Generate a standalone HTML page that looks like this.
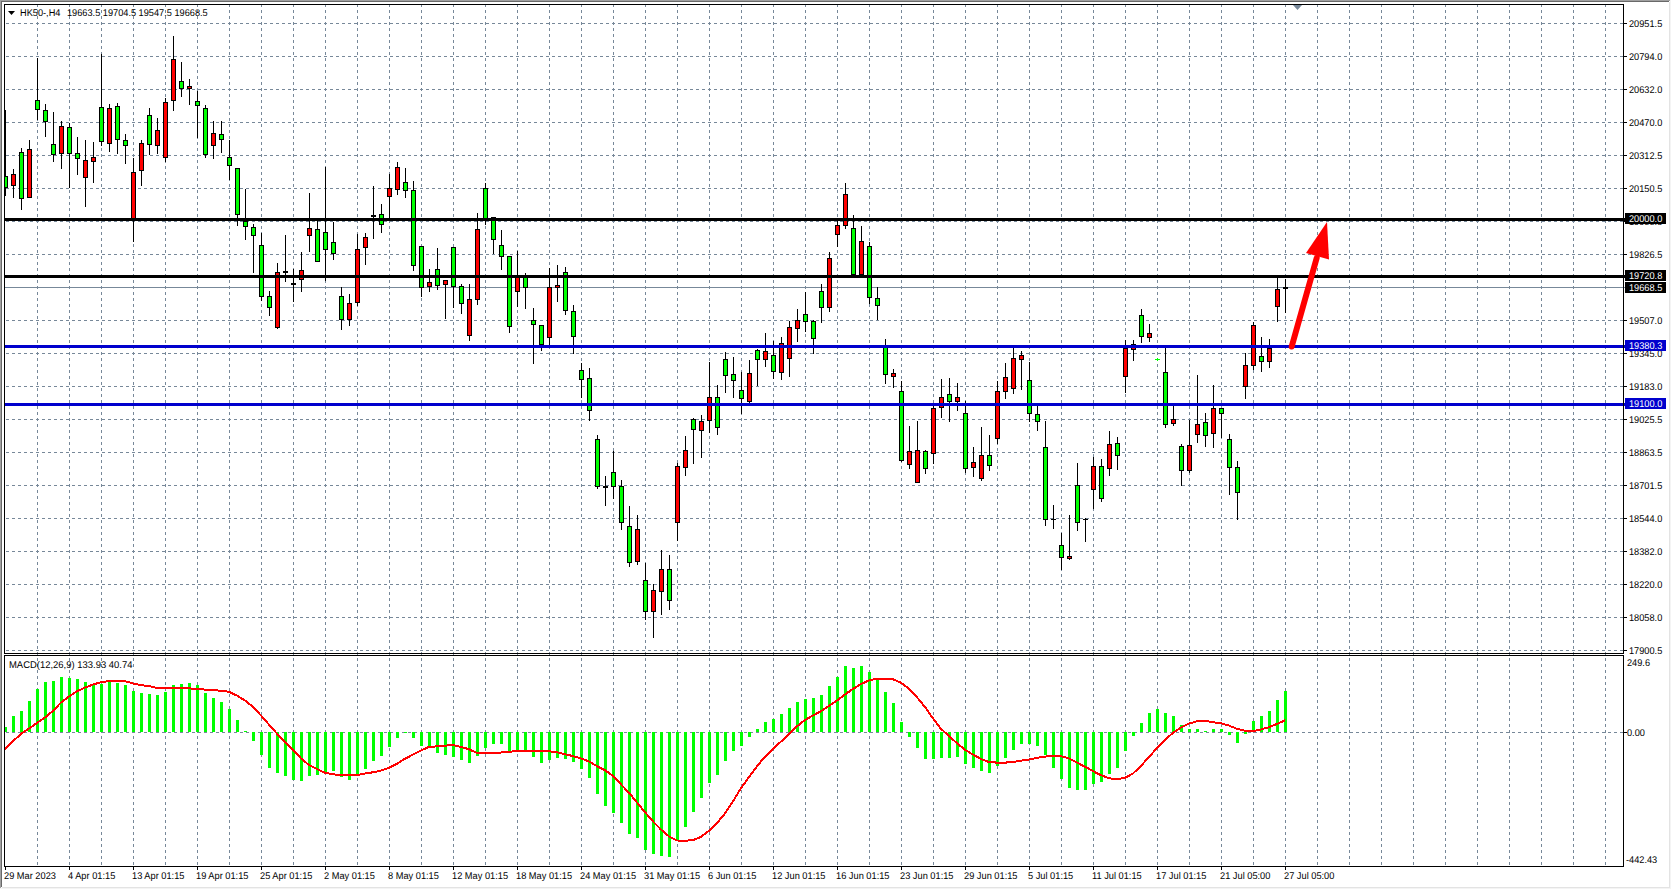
<!DOCTYPE html><html><head><meta charset="utf-8"><title>HK50-,H4</title><style>html,body{margin:0;padding:0;background:#fff;overflow:hidden}svg{display:block}text{font-family:'Liberation Sans',Arial,sans-serif;font-size:11.0px;text-rendering:geometricPrecision}</style></head><body>
<svg width="1671" height="889" viewBox="0 0 1671 889" shape-rendering="crispEdges">
<rect x="0" y="0" width="1671" height="889" fill="#fff"/>
<rect x="0" y="0" width="1671" height="1" fill="#a0a0a0"/>
<rect x="0" y="0" width="1" height="888" fill="#a0a0a0"/>
<rect x="1" y="1" width="1668" height="1" fill="#696969"/>
<rect x="1" y="1" width="1" height="886" fill="#696969"/>
<rect x="1669" y="2" width="1" height="886" fill="#e3e3e3"/>
<rect x="2" y="887" width="1668" height="1" fill="#e3e3e3"/>
<rect x="1670" y="0" width="1" height="889" fill="#f4f4f4"/>
<rect x="0" y="888" width="1671" height="1" fill="#f4f4f4"/>
<path d="M5 23.5H1623 M5 56.5H1623 M5 89.5H1623 M5 122.5H1623 M5 155.5H1623 M5 188.5H1623 M5 221.5H1623 M5 254.5H1623 M5 287.5H1623 M5 320.5H1623 M5 353.5H1623 M5 386.5H1623 M5 419.5H1623 M5 452.5H1623 M5 485.5H1623 M5 518.5H1623 M5 551.5H1623 M5 584.5H1623 M5 617.5H1623 M5 650.5H1623" stroke="#778899" stroke-width="1" stroke-dasharray="3 3" fill="none" stroke-dashoffset="5"/>
<path d="M5 732.5H1623" stroke="#778899" stroke-width="1" stroke-dasharray="3 3" stroke-dashoffset="5" fill="none"/>
<path d="M37.5 4V866 M69.5 4V866 M101.5 4V866 M133.5 4V866 M165.5 4V866 M197.5 4V866 M229.5 4V866 M261.5 4V866 M293.5 4V866 M325.5 4V866 M357.5 4V866 M389.5 4V866 M421.5 4V866 M453.5 4V866 M485.5 4V866 M517.5 4V866 M549.5 4V866 M581.5 4V866 M613.5 4V866 M645.5 4V866 M677.5 4V866 M709.5 4V866 M741.5 4V866 M773.5 4V866 M805.5 4V866 M837.5 4V866 M869.5 4V866 M901.5 4V866 M933.5 4V866 M965.5 4V866 M997.5 4V866 M1029.5 4V866 M1061.5 4V866 M1093.5 4V866 M1125.5 4V866 M1157.5 4V866 M1189.5 4V866 M1221.5 4V866 M1253.5 4V866 M1285.5 4V866 M1317.5 4V866 M1349.5 4V866 M1381.5 4V866 M1413.5 4V866 M1445.5 4V866 M1477.5 4V866 M1509.5 4V866 M1541.5 4V866 M1573.5 4V866 M1605.5 4V866" stroke="#778899" stroke-width="1" stroke-dasharray="3 3" fill="none"/>
<defs><clipPath id="cm"><rect x="5" y="5" width="1618" height="648"/></clipPath><clipPath id="cd"><rect x="5" y="656" width="1618" height="210"/></clipPath></defs>
<g clip-path="url(#cm)">
<rect x="5" y="287" width="1618" height="1" fill="#778899"/>
<rect x="5" y="110" width="1" height="86" fill="#000"/>
<rect x="3" y="176" width="5" height="12" fill="#000"/>
<rect x="4" y="177" width="3" height="10" fill="#00ff00"/>
<rect x="13" y="169" width="1" height="29" fill="#000"/>
<rect x="11" y="174" width="5" height="12" fill="#000"/>
<rect x="12" y="175" width="3" height="10" fill="#ff0000"/>
<rect x="21" y="148" width="1" height="62" fill="#000"/>
<rect x="19" y="152" width="5" height="47" fill="#000"/>
<rect x="20" y="153" width="3" height="45" fill="#00ff00"/>
<rect x="29" y="140" width="1" height="58" fill="#000"/>
<rect x="27" y="149" width="5" height="49" fill="#000"/>
<rect x="28" y="150" width="3" height="47" fill="#ff0000"/>
<rect x="37" y="58" width="1" height="62" fill="#000"/>
<rect x="35" y="100" width="5" height="10" fill="#000"/>
<rect x="36" y="101" width="3" height="8" fill="#00ff00"/>
<rect x="45" y="104" width="1" height="33" fill="#000"/>
<rect x="43" y="110" width="5" height="12" fill="#000"/>
<rect x="44" y="111" width="3" height="10" fill="#00ff00"/>
<rect x="53" y="112" width="1" height="50" fill="#000"/>
<rect x="51" y="144" width="5" height="11" fill="#000"/>
<rect x="52" y="145" width="3" height="9" fill="#00ff00"/>
<rect x="61" y="121" width="1" height="48" fill="#000"/>
<rect x="59" y="126" width="5" height="28" fill="#000"/>
<rect x="60" y="127" width="3" height="26" fill="#ff0000"/>
<rect x="69" y="123" width="1" height="65" fill="#000"/>
<rect x="67" y="127" width="5" height="27" fill="#000"/>
<rect x="68" y="128" width="3" height="25" fill="#00ff00"/>
<rect x="77" y="137" width="1" height="38" fill="#000"/>
<rect x="75" y="153" width="5" height="6" fill="#000"/>
<rect x="76" y="154" width="3" height="4" fill="#00ff00"/>
<rect x="85" y="140" width="1" height="67" fill="#000"/>
<rect x="83" y="160" width="5" height="18" fill="#000"/>
<rect x="84" y="161" width="3" height="16" fill="#ff0000"/>
<rect x="93" y="142" width="1" height="41" fill="#000"/>
<rect x="91" y="157" width="5" height="5" fill="#000"/>
<rect x="92" y="158" width="3" height="3" fill="#ff0000"/>
<rect x="101" y="54" width="1" height="92" fill="#000"/>
<rect x="99" y="107" width="5" height="35" fill="#000"/>
<rect x="100" y="108" width="3" height="33" fill="#00ff00"/>
<rect x="109" y="104" width="1" height="48" fill="#000"/>
<rect x="107" y="108" width="5" height="36" fill="#000"/>
<rect x="108" y="109" width="3" height="34" fill="#ff0000"/>
<rect x="117" y="103" width="1" height="51" fill="#000"/>
<rect x="115" y="106" width="5" height="34" fill="#000"/>
<rect x="116" y="107" width="3" height="32" fill="#00ff00"/>
<rect x="125" y="134" width="1" height="30" fill="#000"/>
<rect x="123" y="140" width="5" height="6" fill="#000"/>
<rect x="124" y="141" width="3" height="4" fill="#00ff00"/>
<rect x="133" y="158" width="1" height="84" fill="#000"/>
<rect x="131" y="172" width="5" height="49" fill="#000"/>
<rect x="132" y="173" width="3" height="47" fill="#ff0000"/>
<rect x="141" y="140" width="1" height="46" fill="#000"/>
<rect x="139" y="143" width="5" height="28" fill="#000"/>
<rect x="140" y="144" width="3" height="26" fill="#ff0000"/>
<rect x="149" y="108" width="1" height="47" fill="#000"/>
<rect x="147" y="115" width="5" height="30" fill="#000"/>
<rect x="148" y="116" width="3" height="28" fill="#00ff00"/>
<rect x="157" y="118" width="1" height="36" fill="#000"/>
<rect x="155" y="130" width="5" height="16" fill="#000"/>
<rect x="156" y="131" width="3" height="14" fill="#ff0000"/>
<rect x="165" y="98" width="1" height="64" fill="#000"/>
<rect x="163" y="102" width="5" height="56" fill="#000"/>
<rect x="164" y="103" width="3" height="54" fill="#ff0000"/>
<rect x="173" y="36" width="1" height="75" fill="#000"/>
<rect x="171" y="59" width="5" height="42" fill="#000"/>
<rect x="172" y="60" width="3" height="40" fill="#ff0000"/>
<rect x="181" y="62" width="1" height="35" fill="#000"/>
<rect x="179" y="81" width="5" height="8" fill="#000"/>
<rect x="180" y="82" width="3" height="6" fill="#00ff00"/>
<rect x="189" y="79" width="1" height="26" fill="#000"/>
<rect x="187" y="86" width="5" height="3" fill="#000"/>
<rect x="188" y="87" width="3" height="1" fill="#ff0000"/>
<rect x="197" y="91" width="1" height="47" fill="#000"/>
<rect x="195" y="101" width="5" height="5" fill="#000"/>
<rect x="196" y="102" width="3" height="3" fill="#00ff00"/>
<rect x="205" y="105" width="1" height="53" fill="#000"/>
<rect x="203" y="108" width="5" height="47" fill="#000"/>
<rect x="204" y="109" width="3" height="45" fill="#00ff00"/>
<rect x="213" y="121" width="1" height="38" fill="#000"/>
<rect x="211" y="133" width="5" height="13" fill="#000"/>
<rect x="212" y="134" width="3" height="11" fill="#ff0000"/>
<rect x="221" y="121" width="1" height="32" fill="#000"/>
<rect x="219" y="134" width="5" height="6" fill="#000"/>
<rect x="220" y="135" width="3" height="4" fill="#00ff00"/>
<rect x="229" y="140" width="1" height="40" fill="#000"/>
<rect x="227" y="157" width="5" height="9" fill="#000"/>
<rect x="228" y="158" width="3" height="7" fill="#00ff00"/>
<rect x="237" y="168" width="1" height="58" fill="#000"/>
<rect x="235" y="168" width="5" height="47" fill="#000"/>
<rect x="236" y="169" width="3" height="45" fill="#00ff00"/>
<rect x="245" y="189" width="1" height="51" fill="#000"/>
<rect x="243" y="221" width="5" height="6" fill="#000"/>
<rect x="244" y="222" width="3" height="4" fill="#00ff00"/>
<rect x="253" y="224" width="1" height="49" fill="#000"/>
<rect x="251" y="227" width="5" height="9" fill="#000"/>
<rect x="252" y="228" width="3" height="7" fill="#00ff00"/>
<rect x="261" y="233" width="1" height="68" fill="#000"/>
<rect x="259" y="245" width="5" height="52" fill="#000"/>
<rect x="260" y="246" width="3" height="50" fill="#00ff00"/>
<rect x="269" y="291" width="1" height="25" fill="#000"/>
<rect x="267" y="296" width="5" height="12" fill="#000"/>
<rect x="268" y="297" width="3" height="10" fill="#00ff00"/>
<rect x="277" y="263" width="1" height="66" fill="#000"/>
<rect x="275" y="272" width="5" height="56" fill="#000"/>
<rect x="276" y="273" width="3" height="54" fill="#ff0000"/>
<rect x="285" y="235" width="1" height="47" fill="#000"/>
<rect x="283" y="271" width="5" height="2" fill="#000"/>
<rect x="293" y="269" width="1" height="33" fill="#000"/>
<rect x="291" y="283" width="5" height="2" fill="#000"/>
<rect x="301" y="252" width="1" height="40" fill="#000"/>
<rect x="299" y="270" width="5" height="10" fill="#000"/>
<rect x="300" y="271" width="3" height="8" fill="#ff0000"/>
<rect x="309" y="193" width="1" height="59" fill="#000"/>
<rect x="307" y="228" width="5" height="8" fill="#000"/>
<rect x="308" y="229" width="3" height="6" fill="#ff0000"/>
<rect x="317" y="220" width="1" height="41" fill="#000"/>
<rect x="315" y="229" width="5" height="33" fill="#000"/>
<rect x="316" y="230" width="3" height="31" fill="#00ff00"/>
<rect x="325" y="167" width="1" height="114" fill="#000"/>
<rect x="323" y="232" width="5" height="18" fill="#000"/>
<rect x="324" y="233" width="3" height="16" fill="#00ff00"/>
<rect x="333" y="222" width="1" height="38" fill="#000"/>
<rect x="331" y="242" width="5" height="12" fill="#000"/>
<rect x="332" y="243" width="3" height="10" fill="#00ff00"/>
<rect x="341" y="287" width="1" height="43" fill="#000"/>
<rect x="339" y="296" width="5" height="24" fill="#000"/>
<rect x="340" y="297" width="3" height="22" fill="#00ff00"/>
<rect x="349" y="294" width="1" height="32" fill="#000"/>
<rect x="347" y="303" width="5" height="17" fill="#000"/>
<rect x="348" y="304" width="3" height="15" fill="#ff0000"/>
<rect x="357" y="234" width="1" height="72" fill="#000"/>
<rect x="355" y="249" width="5" height="54" fill="#000"/>
<rect x="356" y="250" width="3" height="52" fill="#ff0000"/>
<rect x="365" y="233" width="1" height="32" fill="#000"/>
<rect x="363" y="237" width="5" height="11" fill="#000"/>
<rect x="364" y="238" width="3" height="9" fill="#ff0000"/>
<rect x="373" y="186" width="1" height="53" fill="#000"/>
<rect x="371" y="215" width="5" height="2" fill="#000"/>
<rect x="381" y="204" width="1" height="29" fill="#000"/>
<rect x="379" y="214" width="5" height="11" fill="#000"/>
<rect x="380" y="215" width="3" height="9" fill="#00ff00"/>
<rect x="389" y="174" width="1" height="45" fill="#000"/>
<rect x="387" y="188" width="5" height="9" fill="#000"/>
<rect x="388" y="189" width="3" height="7" fill="#ff0000"/>
<rect x="397" y="162" width="1" height="33" fill="#000"/>
<rect x="395" y="167" width="5" height="23" fill="#000"/>
<rect x="396" y="168" width="3" height="21" fill="#ff0000"/>
<rect x="405" y="168" width="1" height="30" fill="#000"/>
<rect x="403" y="182" width="5" height="9" fill="#000"/>
<rect x="404" y="183" width="3" height="7" fill="#00ff00"/>
<rect x="413" y="181" width="1" height="90" fill="#000"/>
<rect x="411" y="190" width="5" height="76" fill="#000"/>
<rect x="412" y="191" width="3" height="74" fill="#00ff00"/>
<rect x="421" y="246" width="1" height="51" fill="#000"/>
<rect x="419" y="246" width="5" height="42" fill="#000"/>
<rect x="420" y="247" width="3" height="40" fill="#00ff00"/>
<rect x="429" y="269" width="1" height="23" fill="#000"/>
<rect x="427" y="282" width="5" height="5" fill="#000"/>
<rect x="428" y="283" width="3" height="3" fill="#ff0000"/>
<rect x="437" y="248" width="1" height="42" fill="#000"/>
<rect x="435" y="269" width="5" height="17" fill="#000"/>
<rect x="436" y="270" width="3" height="15" fill="#00ff00"/>
<rect x="445" y="280" width="1" height="39" fill="#000"/>
<rect x="443" y="280" width="5" height="5" fill="#000"/>
<rect x="444" y="281" width="3" height="3" fill="#ff0000"/>
<rect x="453" y="247" width="1" height="61" fill="#000"/>
<rect x="451" y="247" width="5" height="40" fill="#000"/>
<rect x="452" y="248" width="3" height="38" fill="#00ff00"/>
<rect x="461" y="284" width="1" height="30" fill="#000"/>
<rect x="459" y="286" width="5" height="18" fill="#000"/>
<rect x="460" y="287" width="3" height="16" fill="#00ff00"/>
<rect x="469" y="284" width="1" height="57" fill="#000"/>
<rect x="467" y="299" width="5" height="37" fill="#000"/>
<rect x="468" y="300" width="3" height="35" fill="#ff0000"/>
<rect x="477" y="213" width="1" height="92" fill="#000"/>
<rect x="475" y="229" width="5" height="71" fill="#000"/>
<rect x="476" y="230" width="3" height="69" fill="#ff0000"/>
<rect x="485" y="183" width="1" height="42" fill="#000"/>
<rect x="483" y="188" width="5" height="31" fill="#000"/>
<rect x="484" y="189" width="3" height="29" fill="#00ff00"/>
<rect x="493" y="217" width="1" height="37" fill="#000"/>
<rect x="491" y="217" width="5" height="23" fill="#000"/>
<rect x="492" y="218" width="3" height="21" fill="#00ff00"/>
<rect x="501" y="230" width="1" height="40" fill="#000"/>
<rect x="499" y="245" width="5" height="12" fill="#000"/>
<rect x="500" y="246" width="3" height="10" fill="#00ff00"/>
<rect x="509" y="256" width="1" height="77" fill="#000"/>
<rect x="507" y="256" width="5" height="71" fill="#000"/>
<rect x="508" y="257" width="3" height="69" fill="#00ff00"/>
<rect x="517" y="251" width="1" height="56" fill="#000"/>
<rect x="515" y="277" width="5" height="15" fill="#000"/>
<rect x="516" y="278" width="3" height="13" fill="#ff0000"/>
<rect x="525" y="273" width="1" height="36" fill="#000"/>
<rect x="523" y="277" width="5" height="11" fill="#000"/>
<rect x="524" y="278" width="3" height="9" fill="#00ff00"/>
<rect x="533" y="308" width="1" height="56" fill="#000"/>
<rect x="531" y="320" width="5" height="5" fill="#000"/>
<rect x="532" y="321" width="3" height="3" fill="#00ff00"/>
<rect x="541" y="325" width="1" height="26" fill="#000"/>
<rect x="539" y="325" width="5" height="20" fill="#000"/>
<rect x="540" y="326" width="3" height="18" fill="#00ff00"/>
<rect x="549" y="268" width="1" height="77" fill="#000"/>
<rect x="547" y="287" width="5" height="51" fill="#000"/>
<rect x="548" y="288" width="3" height="49" fill="#ff0000"/>
<rect x="557" y="265" width="1" height="37" fill="#000"/>
<rect x="555" y="285" width="5" height="3" fill="#000"/>
<rect x="556" y="286" width="3" height="1" fill="#ff0000"/>
<rect x="565" y="267" width="1" height="48" fill="#000"/>
<rect x="563" y="272" width="5" height="39" fill="#000"/>
<rect x="564" y="273" width="3" height="37" fill="#00ff00"/>
<rect x="573" y="305" width="1" height="49" fill="#000"/>
<rect x="571" y="311" width="5" height="26" fill="#000"/>
<rect x="572" y="312" width="3" height="24" fill="#00ff00"/>
<rect x="581" y="363" width="1" height="35" fill="#000"/>
<rect x="579" y="370" width="5" height="10" fill="#000"/>
<rect x="580" y="371" width="3" height="8" fill="#00ff00"/>
<rect x="589" y="368" width="1" height="53" fill="#000"/>
<rect x="587" y="378" width="5" height="33" fill="#000"/>
<rect x="588" y="379" width="3" height="31" fill="#00ff00"/>
<rect x="597" y="435" width="1" height="54" fill="#000"/>
<rect x="595" y="439" width="5" height="48" fill="#000"/>
<rect x="596" y="440" width="3" height="46" fill="#00ff00"/>
<rect x="605" y="476" width="1" height="30" fill="#000"/>
<rect x="603" y="486" width="5" height="2" fill="#000"/>
<rect x="613" y="451" width="1" height="48" fill="#000"/>
<rect x="611" y="472" width="5" height="15" fill="#000"/>
<rect x="612" y="473" width="3" height="13" fill="#00ff00"/>
<rect x="621" y="480" width="1" height="50" fill="#000"/>
<rect x="619" y="486" width="5" height="37" fill="#000"/>
<rect x="620" y="487" width="3" height="35" fill="#00ff00"/>
<rect x="629" y="506" width="1" height="61" fill="#000"/>
<rect x="627" y="526" width="5" height="37" fill="#000"/>
<rect x="628" y="527" width="3" height="35" fill="#00ff00"/>
<rect x="637" y="515" width="1" height="50" fill="#000"/>
<rect x="635" y="529" width="5" height="33" fill="#000"/>
<rect x="636" y="530" width="3" height="31" fill="#ff0000"/>
<rect x="645" y="563" width="1" height="57" fill="#000"/>
<rect x="643" y="580" width="5" height="32" fill="#000"/>
<rect x="644" y="581" width="3" height="30" fill="#00ff00"/>
<rect x="653" y="584" width="1" height="54" fill="#000"/>
<rect x="651" y="590" width="5" height="22" fill="#000"/>
<rect x="652" y="591" width="3" height="20" fill="#ff0000"/>
<rect x="661" y="550" width="1" height="65" fill="#000"/>
<rect x="659" y="569" width="5" height="23" fill="#000"/>
<rect x="660" y="570" width="3" height="21" fill="#ff0000"/>
<rect x="669" y="555" width="1" height="55" fill="#000"/>
<rect x="667" y="569" width="5" height="32" fill="#000"/>
<rect x="668" y="570" width="3" height="30" fill="#00ff00"/>
<rect x="677" y="463" width="1" height="78" fill="#000"/>
<rect x="675" y="466" width="5" height="57" fill="#000"/>
<rect x="676" y="467" width="3" height="55" fill="#ff0000"/>
<rect x="685" y="436" width="1" height="40" fill="#000"/>
<rect x="683" y="450" width="5" height="18" fill="#000"/>
<rect x="684" y="451" width="3" height="16" fill="#ff0000"/>
<rect x="693" y="418" width="1" height="46" fill="#000"/>
<rect x="691" y="419" width="5" height="11" fill="#000"/>
<rect x="692" y="420" width="3" height="9" fill="#00ff00"/>
<rect x="701" y="415" width="1" height="43" fill="#000"/>
<rect x="699" y="421" width="5" height="10" fill="#000"/>
<rect x="700" y="422" width="3" height="8" fill="#ff0000"/>
<rect x="709" y="362" width="1" height="71" fill="#000"/>
<rect x="707" y="397" width="5" height="24" fill="#000"/>
<rect x="708" y="398" width="3" height="22" fill="#ff0000"/>
<rect x="717" y="385" width="1" height="50" fill="#000"/>
<rect x="715" y="397" width="5" height="31" fill="#000"/>
<rect x="716" y="398" width="3" height="29" fill="#00ff00"/>
<rect x="725" y="352" width="1" height="41" fill="#000"/>
<rect x="723" y="359" width="5" height="17" fill="#000"/>
<rect x="724" y="360" width="3" height="15" fill="#00ff00"/>
<rect x="733" y="357" width="1" height="41" fill="#000"/>
<rect x="731" y="374" width="5" height="7" fill="#000"/>
<rect x="732" y="375" width="3" height="5" fill="#00ff00"/>
<rect x="741" y="372" width="1" height="42" fill="#000"/>
<rect x="739" y="390" width="5" height="9" fill="#000"/>
<rect x="740" y="391" width="3" height="7" fill="#00ff00"/>
<rect x="749" y="360" width="1" height="43" fill="#000"/>
<rect x="747" y="373" width="5" height="29" fill="#000"/>
<rect x="748" y="374" width="3" height="27" fill="#ff0000"/>
<rect x="757" y="349" width="1" height="37" fill="#000"/>
<rect x="755" y="350" width="5" height="10" fill="#000"/>
<rect x="756" y="351" width="3" height="8" fill="#00ff00"/>
<rect x="765" y="333" width="1" height="34" fill="#000"/>
<rect x="763" y="351" width="5" height="9" fill="#000"/>
<rect x="764" y="352" width="3" height="7" fill="#ff0000"/>
<rect x="773" y="341" width="1" height="38" fill="#000"/>
<rect x="771" y="355" width="5" height="17" fill="#000"/>
<rect x="772" y="356" width="3" height="15" fill="#00ff00"/>
<rect x="781" y="337" width="1" height="43" fill="#000"/>
<rect x="779" y="343" width="5" height="30" fill="#000"/>
<rect x="780" y="344" width="3" height="28" fill="#ff0000"/>
<rect x="789" y="321" width="1" height="56" fill="#000"/>
<rect x="787" y="327" width="5" height="32" fill="#000"/>
<rect x="788" y="328" width="3" height="30" fill="#ff0000"/>
<rect x="797" y="309" width="1" height="33" fill="#000"/>
<rect x="795" y="320" width="5" height="9" fill="#000"/>
<rect x="796" y="321" width="3" height="7" fill="#ff0000"/>
<rect x="805" y="292" width="1" height="40" fill="#000"/>
<rect x="803" y="314" width="5" height="8" fill="#000"/>
<rect x="804" y="315" width="3" height="6" fill="#00ff00"/>
<rect x="813" y="320" width="1" height="34" fill="#000"/>
<rect x="811" y="321" width="5" height="18" fill="#000"/>
<rect x="812" y="322" width="3" height="16" fill="#00ff00"/>
<rect x="821" y="284" width="1" height="39" fill="#000"/>
<rect x="819" y="291" width="5" height="17" fill="#000"/>
<rect x="820" y="292" width="3" height="15" fill="#00ff00"/>
<rect x="829" y="252" width="1" height="60" fill="#000"/>
<rect x="827" y="258" width="5" height="50" fill="#000"/>
<rect x="828" y="259" width="3" height="48" fill="#ff0000"/>
<rect x="837" y="221" width="1" height="26" fill="#000"/>
<rect x="835" y="225" width="5" height="10" fill="#000"/>
<rect x="836" y="226" width="3" height="8" fill="#ff0000"/>
<rect x="845" y="183" width="1" height="46" fill="#000"/>
<rect x="843" y="194" width="5" height="32" fill="#000"/>
<rect x="844" y="195" width="3" height="30" fill="#ff0000"/>
<rect x="853" y="215" width="1" height="60" fill="#000"/>
<rect x="851" y="228" width="5" height="47" fill="#000"/>
<rect x="852" y="229" width="3" height="45" fill="#00ff00"/>
<rect x="861" y="226" width="1" height="49" fill="#000"/>
<rect x="859" y="241" width="5" height="34" fill="#000"/>
<rect x="860" y="242" width="3" height="32" fill="#ff0000"/>
<rect x="869" y="242" width="1" height="62" fill="#000"/>
<rect x="867" y="246" width="5" height="52" fill="#000"/>
<rect x="868" y="247" width="3" height="50" fill="#00ff00"/>
<rect x="877" y="287" width="1" height="33" fill="#000"/>
<rect x="875" y="298" width="5" height="8" fill="#000"/>
<rect x="876" y="299" width="3" height="6" fill="#00ff00"/>
<rect x="885" y="339" width="1" height="45" fill="#000"/>
<rect x="883" y="347" width="5" height="28" fill="#000"/>
<rect x="884" y="348" width="3" height="26" fill="#00ff00"/>
<rect x="893" y="369" width="1" height="19" fill="#000"/>
<rect x="891" y="373" width="5" height="4" fill="#000"/>
<rect x="892" y="374" width="3" height="2" fill="#ff0000"/>
<rect x="901" y="381" width="1" height="81" fill="#000"/>
<rect x="899" y="391" width="5" height="70" fill="#000"/>
<rect x="900" y="392" width="3" height="68" fill="#00ff00"/>
<rect x="909" y="426" width="1" height="43" fill="#000"/>
<rect x="907" y="451" width="5" height="14" fill="#000"/>
<rect x="908" y="452" width="3" height="12" fill="#ff0000"/>
<rect x="917" y="421" width="1" height="62" fill="#000"/>
<rect x="915" y="450" width="5" height="33" fill="#000"/>
<rect x="916" y="451" width="3" height="31" fill="#ff0000"/>
<rect x="925" y="450" width="1" height="24" fill="#000"/>
<rect x="923" y="451" width="5" height="18" fill="#000"/>
<rect x="924" y="452" width="3" height="16" fill="#00ff00"/>
<rect x="933" y="403" width="1" height="61" fill="#000"/>
<rect x="931" y="408" width="5" height="46" fill="#000"/>
<rect x="932" y="409" width="3" height="44" fill="#ff0000"/>
<rect x="941" y="379" width="1" height="39" fill="#000"/>
<rect x="939" y="397" width="5" height="11" fill="#000"/>
<rect x="940" y="398" width="3" height="9" fill="#ff0000"/>
<rect x="949" y="378" width="1" height="44" fill="#000"/>
<rect x="947" y="394" width="5" height="8" fill="#000"/>
<rect x="948" y="395" width="3" height="6" fill="#00ff00"/>
<rect x="957" y="383" width="1" height="28" fill="#000"/>
<rect x="955" y="397" width="5" height="5" fill="#000"/>
<rect x="956" y="398" width="3" height="3" fill="#ff0000"/>
<rect x="965" y="401" width="1" height="72" fill="#000"/>
<rect x="963" y="413" width="5" height="56" fill="#000"/>
<rect x="964" y="414" width="3" height="54" fill="#00ff00"/>
<rect x="973" y="447" width="1" height="30" fill="#000"/>
<rect x="971" y="462" width="5" height="6" fill="#000"/>
<rect x="972" y="463" width="3" height="4" fill="#ff0000"/>
<rect x="981" y="427" width="1" height="54" fill="#000"/>
<rect x="979" y="455" width="5" height="24" fill="#000"/>
<rect x="980" y="456" width="3" height="22" fill="#ff0000"/>
<rect x="989" y="435" width="1" height="36" fill="#000"/>
<rect x="987" y="455" width="5" height="11" fill="#000"/>
<rect x="988" y="456" width="3" height="9" fill="#00ff00"/>
<rect x="997" y="381" width="1" height="63" fill="#000"/>
<rect x="995" y="391" width="5" height="48" fill="#000"/>
<rect x="996" y="392" width="3" height="46" fill="#ff0000"/>
<rect x="1005" y="363" width="1" height="36" fill="#000"/>
<rect x="1003" y="377" width="5" height="15" fill="#000"/>
<rect x="1004" y="378" width="3" height="13" fill="#ff0000"/>
<rect x="1013" y="348" width="1" height="46" fill="#000"/>
<rect x="1011" y="358" width="5" height="31" fill="#000"/>
<rect x="1012" y="359" width="3" height="29" fill="#ff0000"/>
<rect x="1021" y="351" width="1" height="39" fill="#000"/>
<rect x="1019" y="355" width="5" height="5" fill="#000"/>
<rect x="1020" y="356" width="3" height="3" fill="#ff0000"/>
<rect x="1029" y="362" width="1" height="60" fill="#000"/>
<rect x="1027" y="380" width="5" height="34" fill="#000"/>
<rect x="1028" y="381" width="3" height="32" fill="#00ff00"/>
<rect x="1037" y="406" width="1" height="25" fill="#000"/>
<rect x="1035" y="414" width="5" height="8" fill="#000"/>
<rect x="1036" y="415" width="3" height="6" fill="#00ff00"/>
<rect x="1045" y="421" width="1" height="105" fill="#000"/>
<rect x="1043" y="447" width="5" height="73" fill="#000"/>
<rect x="1044" y="448" width="3" height="71" fill="#00ff00"/>
<rect x="1053" y="505" width="1" height="24" fill="#000"/>
<rect x="1051" y="519" width="5" height="1" fill="#000"/>
<rect x="1061" y="533" width="1" height="37" fill="#000"/>
<rect x="1059" y="545" width="5" height="13" fill="#000"/>
<rect x="1060" y="546" width="3" height="11" fill="#00ff00"/>
<rect x="1069" y="515" width="1" height="45" fill="#000"/>
<rect x="1067" y="556" width="5" height="3" fill="#000"/>
<rect x="1068" y="557" width="3" height="1" fill="#ff0000"/>
<rect x="1077" y="463" width="1" height="68" fill="#000"/>
<rect x="1075" y="485" width="5" height="38" fill="#000"/>
<rect x="1076" y="486" width="3" height="36" fill="#00ff00"/>
<rect x="1085" y="518" width="1" height="24" fill="#000"/>
<rect x="1083" y="519" width="5" height="1" fill="#000"/>
<rect x="1093" y="457" width="1" height="52" fill="#000"/>
<rect x="1091" y="466" width="5" height="24" fill="#000"/>
<rect x="1092" y="467" width="3" height="22" fill="#ff0000"/>
<rect x="1101" y="459" width="1" height="43" fill="#000"/>
<rect x="1099" y="466" width="5" height="33" fill="#000"/>
<rect x="1100" y="467" width="3" height="31" fill="#00ff00"/>
<rect x="1109" y="431" width="1" height="45" fill="#000"/>
<rect x="1107" y="444" width="5" height="25" fill="#000"/>
<rect x="1108" y="445" width="3" height="23" fill="#ff0000"/>
<rect x="1117" y="437" width="1" height="33" fill="#000"/>
<rect x="1115" y="443" width="5" height="13" fill="#000"/>
<rect x="1116" y="444" width="3" height="11" fill="#00ff00"/>
<rect x="1125" y="340" width="1" height="53" fill="#000"/>
<rect x="1123" y="348" width="5" height="29" fill="#000"/>
<rect x="1124" y="349" width="3" height="27" fill="#ff0000"/>
<rect x="1133" y="340" width="1" height="21" fill="#000"/>
<rect x="1131" y="344" width="5" height="6" fill="#000"/>
<rect x="1132" y="345" width="3" height="4" fill="#ff0000"/>
<rect x="1141" y="309" width="1" height="34" fill="#000"/>
<rect x="1139" y="315" width="5" height="22" fill="#000"/>
<rect x="1140" y="316" width="3" height="20" fill="#00ff00"/>
<rect x="1149" y="324" width="1" height="18" fill="#000"/>
<rect x="1147" y="333" width="5" height="5" fill="#000"/>
<rect x="1148" y="334" width="3" height="3" fill="#ff0000"/>
<rect x="1165" y="347" width="1" height="81" fill="#000"/>
<rect x="1163" y="372" width="5" height="53" fill="#000"/>
<rect x="1164" y="373" width="3" height="51" fill="#00ff00"/>
<rect x="1173" y="406" width="1" height="20" fill="#000"/>
<rect x="1171" y="419" width="5" height="5" fill="#000"/>
<rect x="1172" y="420" width="3" height="3" fill="#ff0000"/>
<rect x="1181" y="444" width="1" height="42" fill="#000"/>
<rect x="1179" y="446" width="5" height="25" fill="#000"/>
<rect x="1180" y="447" width="3" height="23" fill="#00ff00"/>
<rect x="1189" y="420" width="1" height="53" fill="#000"/>
<rect x="1187" y="445" width="5" height="26" fill="#000"/>
<rect x="1188" y="446" width="3" height="24" fill="#ff0000"/>
<rect x="1197" y="375" width="1" height="68" fill="#000"/>
<rect x="1195" y="424" width="5" height="11" fill="#000"/>
<rect x="1196" y="425" width="3" height="9" fill="#ff0000"/>
<rect x="1205" y="413" width="1" height="34" fill="#000"/>
<rect x="1203" y="422" width="5" height="14" fill="#000"/>
<rect x="1204" y="423" width="3" height="12" fill="#00ff00"/>
<rect x="1213" y="385" width="1" height="63" fill="#000"/>
<rect x="1211" y="408" width="5" height="26" fill="#000"/>
<rect x="1212" y="409" width="3" height="24" fill="#ff0000"/>
<rect x="1221" y="408" width="1" height="30" fill="#000"/>
<rect x="1219" y="408" width="5" height="6" fill="#000"/>
<rect x="1220" y="409" width="3" height="4" fill="#00ff00"/>
<rect x="1229" y="434" width="1" height="61" fill="#000"/>
<rect x="1227" y="439" width="5" height="29" fill="#000"/>
<rect x="1228" y="440" width="3" height="27" fill="#00ff00"/>
<rect x="1237" y="461" width="1" height="59" fill="#000"/>
<rect x="1235" y="467" width="5" height="26" fill="#000"/>
<rect x="1236" y="468" width="3" height="24" fill="#00ff00"/>
<rect x="1245" y="353" width="1" height="46" fill="#000"/>
<rect x="1243" y="365" width="5" height="22" fill="#000"/>
<rect x="1244" y="366" width="3" height="20" fill="#ff0000"/>
<rect x="1253" y="322" width="1" height="48" fill="#000"/>
<rect x="1251" y="325" width="5" height="41" fill="#000"/>
<rect x="1252" y="326" width="3" height="39" fill="#ff0000"/>
<rect x="1261" y="337" width="1" height="35" fill="#000"/>
<rect x="1259" y="356" width="5" height="6" fill="#000"/>
<rect x="1260" y="357" width="3" height="4" fill="#00ff00"/>
<rect x="1269" y="339" width="1" height="29" fill="#000"/>
<rect x="1267" y="348" width="5" height="14" fill="#000"/>
<rect x="1268" y="349" width="3" height="12" fill="#ff0000"/>
<rect x="1277" y="278" width="1" height="44" fill="#000"/>
<rect x="1275" y="289" width="5" height="18" fill="#000"/>
<rect x="1276" y="290" width="3" height="16" fill="#ff0000"/>
<rect x="1285" y="279" width="1" height="34" fill="#000"/>
<rect x="1283" y="287" width="5" height="2" fill="#000"/>
<rect x="5" y="218" width="1618" height="3" fill="#000"/>
<rect x="5" y="275" width="1618" height="3" fill="#000"/>
<rect x="5" y="345" width="1618" height="3" fill="#0000cd"/>
<rect x="5" y="403" width="1618" height="3" fill="#0000cd"/>
<rect x="1155" y="359" width="5" height="1" fill="#00ff00"/><rect x="1157" y="358" width="1" height="3" fill="#00ff00"/>
<g shape-rendering="auto"><line x1="1291.7" y1="346.5" x2="1316.7" y2="258" stroke="#ff0000" stroke-width="6" stroke-linecap="round"/><polygon points="1327,222 1306,253 1329,259.5" fill="#ff0000"/></g>
<polygon points="1293,5 1302,5 1297.5,10" fill="#778899" shape-rendering="auto"/>
</g>
<g clip-path="url(#cd)">
<rect x="4" y="727" width="3" height="5" fill="#00ff00"/>
<rect x="12" y="716" width="3" height="16" fill="#00ff00"/>
<rect x="20" y="711" width="3" height="21" fill="#00ff00"/>
<rect x="28" y="701" width="3" height="31" fill="#00ff00"/>
<rect x="36" y="689" width="3" height="43" fill="#00ff00"/>
<rect x="44" y="682" width="3" height="50" fill="#00ff00"/>
<rect x="52" y="681" width="3" height="51" fill="#00ff00"/>
<rect x="60" y="677" width="3" height="55" fill="#00ff00"/>
<rect x="68" y="678" width="3" height="54" fill="#00ff00"/>
<rect x="76" y="679" width="3" height="53" fill="#00ff00"/>
<rect x="84" y="682" width="3" height="50" fill="#00ff00"/>
<rect x="92" y="684" width="3" height="48" fill="#00ff00"/>
<rect x="100" y="684" width="3" height="48" fill="#00ff00"/>
<rect x="108" y="682" width="3" height="50" fill="#00ff00"/>
<rect x="116" y="683" width="3" height="49" fill="#00ff00"/>
<rect x="124" y="685" width="3" height="47" fill="#00ff00"/>
<rect x="132" y="691" width="3" height="41" fill="#00ff00"/>
<rect x="140" y="693" width="3" height="39" fill="#00ff00"/>
<rect x="148" y="694" width="3" height="38" fill="#00ff00"/>
<rect x="156" y="695" width="3" height="37" fill="#00ff00"/>
<rect x="164" y="692" width="3" height="40" fill="#00ff00"/>
<rect x="172" y="685" width="3" height="47" fill="#00ff00"/>
<rect x="180" y="684" width="3" height="48" fill="#00ff00"/>
<rect x="188" y="683" width="3" height="49" fill="#00ff00"/>
<rect x="196" y="685" width="3" height="47" fill="#00ff00"/>
<rect x="204" y="693" width="3" height="39" fill="#00ff00"/>
<rect x="212" y="698" width="3" height="34" fill="#00ff00"/>
<rect x="220" y="702" width="3" height="30" fill="#00ff00"/>
<rect x="228" y="709" width="3" height="23" fill="#00ff00"/>
<rect x="236" y="720" width="3" height="12" fill="#00ff00"/>
<rect x="244" y="731" width="3" height="1" fill="#00ff00"/>
<rect x="252" y="732" width="3" height="9" fill="#00ff00"/>
<rect x="260" y="732" width="3" height="23" fill="#00ff00"/>
<rect x="268" y="732" width="3" height="36" fill="#00ff00"/>
<rect x="276" y="732" width="3" height="41" fill="#00ff00"/>
<rect x="284" y="732" width="3" height="44" fill="#00ff00"/>
<rect x="292" y="732" width="3" height="48" fill="#00ff00"/>
<rect x="300" y="732" width="3" height="49" fill="#00ff00"/>
<rect x="308" y="732" width="3" height="44" fill="#00ff00"/>
<rect x="316" y="732" width="3" height="43" fill="#00ff00"/>
<rect x="324" y="732" width="3" height="41" fill="#00ff00"/>
<rect x="332" y="732" width="3" height="39" fill="#00ff00"/>
<rect x="340" y="732" width="3" height="45" fill="#00ff00"/>
<rect x="348" y="732" width="3" height="48" fill="#00ff00"/>
<rect x="356" y="732" width="3" height="42" fill="#00ff00"/>
<rect x="364" y="732" width="3" height="37" fill="#00ff00"/>
<rect x="372" y="732" width="3" height="29" fill="#00ff00"/>
<rect x="380" y="732" width="3" height="24" fill="#00ff00"/>
<rect x="388" y="732" width="3" height="15" fill="#00ff00"/>
<rect x="396" y="732" width="3" height="6" fill="#00ff00"/>
<rect x="404" y="732" width="3" height="1" fill="#00ff00"/>
<rect x="412" y="732" width="3" height="6" fill="#00ff00"/>
<rect x="420" y="732" width="3" height="14" fill="#00ff00"/>
<rect x="428" y="732" width="3" height="15" fill="#00ff00"/>
<rect x="436" y="732" width="3" height="21" fill="#00ff00"/>
<rect x="444" y="732" width="3" height="23" fill="#00ff00"/>
<rect x="452" y="732" width="3" height="25" fill="#00ff00"/>
<rect x="460" y="732" width="3" height="28" fill="#00ff00"/>
<rect x="468" y="732" width="3" height="31" fill="#00ff00"/>
<rect x="476" y="732" width="3" height="24" fill="#00ff00"/>
<rect x="484" y="732" width="3" height="16" fill="#00ff00"/>
<rect x="492" y="732" width="3" height="12" fill="#00ff00"/>
<rect x="500" y="732" width="3" height="12" fill="#00ff00"/>
<rect x="508" y="732" width="3" height="19" fill="#00ff00"/>
<rect x="516" y="732" width="3" height="19" fill="#00ff00"/>
<rect x="524" y="732" width="3" height="18" fill="#00ff00"/>
<rect x="532" y="732" width="3" height="25" fill="#00ff00"/>
<rect x="540" y="732" width="3" height="31" fill="#00ff00"/>
<rect x="548" y="732" width="3" height="28" fill="#00ff00"/>
<rect x="556" y="732" width="3" height="26" fill="#00ff00"/>
<rect x="564" y="732" width="3" height="27" fill="#00ff00"/>
<rect x="572" y="732" width="3" height="30" fill="#00ff00"/>
<rect x="580" y="732" width="3" height="37" fill="#00ff00"/>
<rect x="588" y="732" width="3" height="46" fill="#00ff00"/>
<rect x="596" y="732" width="3" height="62" fill="#00ff00"/>
<rect x="604" y="732" width="3" height="74" fill="#00ff00"/>
<rect x="612" y="732" width="3" height="81" fill="#00ff00"/>
<rect x="620" y="732" width="3" height="91" fill="#00ff00"/>
<rect x="628" y="732" width="3" height="102" fill="#00ff00"/>
<rect x="636" y="732" width="3" height="106" fill="#00ff00"/>
<rect x="644" y="732" width="3" height="118" fill="#00ff00"/>
<rect x="652" y="732" width="3" height="122" fill="#00ff00"/>
<rect x="660" y="732" width="3" height="124" fill="#00ff00"/>
<rect x="668" y="732" width="3" height="125" fill="#00ff00"/>
<rect x="676" y="732" width="3" height="109" fill="#00ff00"/>
<rect x="684" y="732" width="3" height="95" fill="#00ff00"/>
<rect x="692" y="732" width="3" height="80" fill="#00ff00"/>
<rect x="700" y="732" width="3" height="66" fill="#00ff00"/>
<rect x="708" y="732" width="3" height="51" fill="#00ff00"/>
<rect x="716" y="732" width="3" height="43" fill="#00ff00"/>
<rect x="724" y="732" width="3" height="29" fill="#00ff00"/>
<rect x="732" y="732" width="3" height="19" fill="#00ff00"/>
<rect x="740" y="732" width="3" height="14" fill="#00ff00"/>
<rect x="748" y="732" width="3" height="5" fill="#00ff00"/>
<rect x="756" y="729" width="3" height="3" fill="#00ff00"/>
<rect x="764" y="722" width="3" height="10" fill="#00ff00"/>
<rect x="772" y="719" width="3" height="13" fill="#00ff00"/>
<rect x="780" y="714" width="3" height="18" fill="#00ff00"/>
<rect x="788" y="708" width="3" height="24" fill="#00ff00"/>
<rect x="796" y="702" width="3" height="30" fill="#00ff00"/>
<rect x="804" y="699" width="3" height="33" fill="#00ff00"/>
<rect x="812" y="698" width="3" height="34" fill="#00ff00"/>
<rect x="820" y="695" width="3" height="37" fill="#00ff00"/>
<rect x="828" y="686" width="3" height="46" fill="#00ff00"/>
<rect x="836" y="677" width="3" height="55" fill="#00ff00"/>
<rect x="844" y="666" width="3" height="66" fill="#00ff00"/>
<rect x="852" y="668" width="3" height="64" fill="#00ff00"/>
<rect x="860" y="666" width="3" height="66" fill="#00ff00"/>
<rect x="868" y="672" width="3" height="60" fill="#00ff00"/>
<rect x="876" y="678" width="3" height="54" fill="#00ff00"/>
<rect x="884" y="692" width="3" height="40" fill="#00ff00"/>
<rect x="892" y="703" width="3" height="29" fill="#00ff00"/>
<rect x="900" y="722" width="3" height="10" fill="#00ff00"/>
<rect x="908" y="732" width="3" height="5" fill="#00ff00"/>
<rect x="916" y="732" width="3" height="16" fill="#00ff00"/>
<rect x="924" y="732" width="3" height="27" fill="#00ff00"/>
<rect x="932" y="732" width="3" height="27" fill="#00ff00"/>
<rect x="940" y="732" width="3" height="26" fill="#00ff00"/>
<rect x="948" y="732" width="3" height="26" fill="#00ff00"/>
<rect x="956" y="732" width="3" height="25" fill="#00ff00"/>
<rect x="964" y="732" width="3" height="32" fill="#00ff00"/>
<rect x="972" y="732" width="3" height="36" fill="#00ff00"/>
<rect x="980" y="732" width="3" height="39" fill="#00ff00"/>
<rect x="988" y="732" width="3" height="41" fill="#00ff00"/>
<rect x="996" y="732" width="3" height="34" fill="#00ff00"/>
<rect x="1004" y="732" width="3" height="26" fill="#00ff00"/>
<rect x="1012" y="732" width="3" height="18" fill="#00ff00"/>
<rect x="1020" y="732" width="3" height="12" fill="#00ff00"/>
<rect x="1028" y="732" width="3" height="12" fill="#00ff00"/>
<rect x="1036" y="732" width="3" height="14" fill="#00ff00"/>
<rect x="1044" y="732" width="3" height="23" fill="#00ff00"/>
<rect x="1052" y="732" width="3" height="36" fill="#00ff00"/>
<rect x="1060" y="732" width="3" height="47" fill="#00ff00"/>
<rect x="1068" y="732" width="3" height="56" fill="#00ff00"/>
<rect x="1076" y="732" width="3" height="58" fill="#00ff00"/>
<rect x="1084" y="732" width="3" height="58" fill="#00ff00"/>
<rect x="1092" y="732" width="3" height="52" fill="#00ff00"/>
<rect x="1100" y="732" width="3" height="50" fill="#00ff00"/>
<rect x="1108" y="732" width="3" height="42" fill="#00ff00"/>
<rect x="1116" y="732" width="3" height="36" fill="#00ff00"/>
<rect x="1124" y="732" width="3" height="19" fill="#00ff00"/>
<rect x="1132" y="732" width="3" height="4" fill="#00ff00"/>
<rect x="1140" y="723" width="3" height="9" fill="#00ff00"/>
<rect x="1148" y="713" width="3" height="19" fill="#00ff00"/>
<rect x="1156" y="709" width="3" height="23" fill="#00ff00"/>
<rect x="1164" y="713" width="3" height="19" fill="#00ff00"/>
<rect x="1172" y="716" width="3" height="16" fill="#00ff00"/>
<rect x="1180" y="725" width="3" height="7" fill="#00ff00"/>
<rect x="1188" y="729" width="3" height="3" fill="#00ff00"/>
<rect x="1196" y="729" width="3" height="3" fill="#00ff00"/>
<rect x="1204" y="731" width="3" height="1" fill="#00ff00"/>
<rect x="1212" y="729" width="3" height="3" fill="#00ff00"/>
<rect x="1220" y="729" width="3" height="3" fill="#00ff00"/>
<rect x="1228" y="732" width="3" height="3" fill="#00ff00"/>
<rect x="1236" y="732" width="3" height="11" fill="#00ff00"/>
<rect x="1244" y="732" width="3" height="2" fill="#00ff00"/>
<rect x="1252" y="721" width="3" height="11" fill="#00ff00"/>
<rect x="1260" y="716" width="3" height="16" fill="#00ff00"/>
<rect x="1268" y="711" width="3" height="21" fill="#00ff00"/>
<rect x="1276" y="700" width="3" height="32" fill="#00ff00"/>
<rect x="1284" y="691" width="3" height="41" fill="#00ff00"/>
<polyline points="5,749.2 13,741.2 21,734 29,728.5 37,723 45,717.5 53,710.8 61,702.5 69,696.6 77,691.3 85,687.6 93,684.5 101,682.3 109,681.1 117,680.6 125,681.1 133,683.5 141,685.2 149,686 157,688.1 165,688.4 173,688.4 181,688.4 189,688.4 197,688.9 205,689.6 213,690 221,690.8 229,691.8 237,695.6 245,700.5 253,707 261,715.5 269,724.6 277,733.6 285,741.6 293,749.8 301,758.5 309,765 317,769.1 325,772.8 333,774.2 341,775.2 349,775.4 357,775 365,773.5 373,772.3 381,770.6 389,767.9 397,763.8 405,758.7 413,754.6 421,750.5 429,746.9 437,746.4 445,745.7 453,745 461,746.9 469,749.3 477,752.9 485,752.9 493,752.9 501,752.5 509,751.7 517,751.2 525,751 533,751 541,751 549,751.2 557,752.2 565,754.2 573,756.1 581,758.5 589,761.4 597,766.2 605,770.2 613,775.9 621,784.4 629,792.8 637,802.5 645,812.2 653,821.4 661,829.6 669,836.4 677,840.5 685,840.7 693,840.2 701,836.9 709,830.8 717,823.1 725,813.4 733,801.3 741,788 749,777.1 757,766.2 765,756.6 773,748.8 781,741.6 789,734.3 797,726.3 805,720 813,715.5 821,711.1 829,705.8 837,700.5 845,694.4 853,688.9 861,684 869,680.4 877,678.7 885,678.7 893,679.2 901,682.8 909,688.9 917,697.3 925,707 933,718.4 941,728.8 949,736 957,743.3 965,749.8 973,754.6 981,759 989,762.1 997,762.6 1005,762.6 1013,762.1 1021,760.7 1029,759.5 1037,757.8 1045,756.6 1053,755.8 1061,756.1 1069,758.5 1077,762.6 1085,766.7 1093,771.1 1101,775.2 1109,778.3 1117,779.1 1125,777.9 1133,773.5 1141,765.8 1149,757 1157,748.1 1165,739.6 1173,732.9 1181,727.4 1189,723.6 1197,721.3 1205,720.9 1213,722.2 1221,723.2 1229,725.6 1237,728.8 1245,730.7 1253,731.2 1261,729.5 1269,727.1 1277,723.9 1285,720.3" fill="none" stroke="#ff0000" stroke-width="2" shape-rendering="crispEdges" stroke-linejoin="round"/>
</g>
<path d="M4.5 4.5H1623.5V653.5H4.5Z" stroke="#000" fill="none"/>
<path d="M4.5 655.5H1623.5V866.5H4.5Z" stroke="#000" fill="none"/>
<rect x="1624" y="23" width="3" height="1" fill="#000"/>
<text transform="translate(1629 27) scale(0.8364 0.8909)">20951.5</text>
<rect x="1624" y="56" width="3" height="1" fill="#000"/>
<text transform="translate(1629 60) scale(0.8364 0.8909)">20794.0</text>
<rect x="1624" y="89" width="3" height="1" fill="#000"/>
<text transform="translate(1629 93) scale(0.8364 0.8909)">20632.0</text>
<rect x="1624" y="122" width="3" height="1" fill="#000"/>
<text transform="translate(1629 126) scale(0.8364 0.8909)">20470.0</text>
<rect x="1624" y="155" width="3" height="1" fill="#000"/>
<text transform="translate(1629 159) scale(0.8364 0.8909)">20312.5</text>
<rect x="1624" y="188" width="3" height="1" fill="#000"/>
<text transform="translate(1629 192) scale(0.8364 0.8909)">20150.5</text>
<rect x="1624" y="221" width="3" height="1" fill="#000"/>
<text transform="translate(1629 225) scale(0.8364 0.8909)">19988.5</text>
<rect x="1624" y="254" width="3" height="1" fill="#000"/>
<text transform="translate(1629 258) scale(0.8364 0.8909)">19826.5</text>
<rect x="1624" y="287" width="3" height="1" fill="#000"/>
<text transform="translate(1629 291) scale(0.8364 0.8909)">19664.5</text>
<rect x="1624" y="320" width="3" height="1" fill="#000"/>
<text transform="translate(1629 324) scale(0.8364 0.8909)">19507.0</text>
<rect x="1624" y="353" width="3" height="1" fill="#000"/>
<text transform="translate(1629 357) scale(0.8364 0.8909)">19345.0</text>
<rect x="1624" y="386" width="3" height="1" fill="#000"/>
<text transform="translate(1629 390) scale(0.8364 0.8909)">19183.0</text>
<rect x="1624" y="419" width="3" height="1" fill="#000"/>
<text transform="translate(1629 423) scale(0.8364 0.8909)">19025.5</text>
<rect x="1624" y="452" width="3" height="1" fill="#000"/>
<text transform="translate(1629 456) scale(0.8364 0.8909)">18863.5</text>
<rect x="1624" y="485" width="3" height="1" fill="#000"/>
<text transform="translate(1629 489) scale(0.8364 0.8909)">18701.5</text>
<rect x="1624" y="518" width="3" height="1" fill="#000"/>
<text transform="translate(1629 522) scale(0.8364 0.8909)">18544.0</text>
<rect x="1624" y="551" width="3" height="1" fill="#000"/>
<text transform="translate(1629 555) scale(0.8364 0.8909)">18382.0</text>
<rect x="1624" y="584" width="3" height="1" fill="#000"/>
<text transform="translate(1629 588) scale(0.8364 0.8909)">18220.0</text>
<rect x="1624" y="617" width="3" height="1" fill="#000"/>
<text transform="translate(1629 621) scale(0.8364 0.8909)">18058.0</text>
<rect x="1624" y="650" width="3" height="1" fill="#000"/>
<text transform="translate(1629 654) scale(0.8364 0.8909)">17900.5</text>
<rect x="1624" y="218" width="2" height="3" fill="#000"/>
<rect x="1625" y="213" width="41" height="11" fill="#000"/>
<text transform="translate(1629 222) scale(0.8364 0.8909)" fill="#fff">20000.0</text>
<rect x="1624" y="275" width="2" height="3" fill="#000"/>
<rect x="1625" y="270" width="41" height="11" fill="#000"/>
<text transform="translate(1629 279) scale(0.8364 0.8909)" fill="#fff">19720.8</text>
<rect x="1624" y="287" width="1" height="1" fill="#778899"/>
<rect x="1625" y="282" width="41" height="11" fill="#000"/>
<text transform="translate(1629 291) scale(0.8364 0.8909)" fill="#fff">19668.5</text>
<rect x="1624" y="345" width="2" height="3" fill="#0000cd"/>
<rect x="1625" y="340" width="41" height="11" fill="#0000cd"/>
<text transform="translate(1629 349) scale(0.8364 0.8909)" fill="#fff">19380.3</text>
<rect x="1624" y="403" width="2" height="3" fill="#0000cd"/>
<rect x="1625" y="398" width="41" height="11" fill="#0000cd"/>
<text transform="translate(1629 407) scale(0.8364 0.8909)" fill="#fff">19100.0</text>
<rect x="1624" y="732" width="3" height="1" fill="#000"/>
<text transform="translate(1627 666) scale(0.8364 0.8909)">249.6</text>
<text transform="translate(1627 736) scale(0.8364 0.8909)">0.00</text>
<text transform="translate(1626 863) scale(0.8364 0.8909)">-442.43</text>
<rect x="5" y="867" width="1" height="3" fill="#000"/>
<text transform="translate(4 879) scale(0.8409090909090909 0.8909)">29 Mar 2023</text>
<rect x="69" y="867" width="1" height="3" fill="#000"/>
<text transform="translate(68 879) scale(0.8409090909090909 0.8909)">4 Apr 01:15</text>
<rect x="133" y="867" width="1" height="3" fill="#000"/>
<text transform="translate(132 879) scale(0.8409090909090909 0.8909)">13 Apr 01:15</text>
<rect x="197" y="867" width="1" height="3" fill="#000"/>
<text transform="translate(196 879) scale(0.8409090909090909 0.8909)">19 Apr 01:15</text>
<rect x="261" y="867" width="1" height="3" fill="#000"/>
<text transform="translate(260 879) scale(0.8409090909090909 0.8909)">25 Apr 01:15</text>
<rect x="325" y="867" width="1" height="3" fill="#000"/>
<text transform="translate(324 879) scale(0.8409090909090909 0.8909)">2 May 01:15</text>
<rect x="389" y="867" width="1" height="3" fill="#000"/>
<text transform="translate(388 879) scale(0.8409090909090909 0.8909)">8 May 01:15</text>
<rect x="453" y="867" width="1" height="3" fill="#000"/>
<text transform="translate(452 879) scale(0.8409090909090909 0.8909)">12 May 01:15</text>
<rect x="517" y="867" width="1" height="3" fill="#000"/>
<text transform="translate(516 879) scale(0.8409090909090909 0.8909)">18 May 01:15</text>
<rect x="581" y="867" width="1" height="3" fill="#000"/>
<text transform="translate(580 879) scale(0.8409090909090909 0.8909)">24 May 01:15</text>
<rect x="645" y="867" width="1" height="3" fill="#000"/>
<text transform="translate(644 879) scale(0.8409090909090909 0.8909)">31 May 01:15</text>
<rect x="709" y="867" width="1" height="3" fill="#000"/>
<text transform="translate(708 879) scale(0.8409090909090909 0.8909)">6 Jun 01:15</text>
<rect x="773" y="867" width="1" height="3" fill="#000"/>
<text transform="translate(772 879) scale(0.8409090909090909 0.8909)">12 Jun 01:15</text>
<rect x="837" y="867" width="1" height="3" fill="#000"/>
<text transform="translate(836 879) scale(0.8409090909090909 0.8909)">16 Jun 01:15</text>
<rect x="901" y="867" width="1" height="3" fill="#000"/>
<text transform="translate(900 879) scale(0.8409090909090909 0.8909)">23 Jun 01:15</text>
<rect x="965" y="867" width="1" height="3" fill="#000"/>
<text transform="translate(964 879) scale(0.8409090909090909 0.8909)">29 Jun 01:15</text>
<rect x="1029" y="867" width="1" height="3" fill="#000"/>
<text transform="translate(1028 879) scale(0.8409090909090909 0.8909)">5 Jul 01:15</text>
<rect x="1093" y="867" width="1" height="3" fill="#000"/>
<text transform="translate(1092 879) scale(0.8409090909090909 0.8909)">11 Jul 01:15</text>
<rect x="1157" y="867" width="1" height="3" fill="#000"/>
<text transform="translate(1156 879) scale(0.8409090909090909 0.8909)">17 Jul 01:15</text>
<rect x="1221" y="867" width="1" height="3" fill="#000"/>
<text transform="translate(1220 879) scale(0.8409090909090909 0.8909)">21 Jul 05:00</text>
<rect x="1285" y="867" width="1" height="3" fill="#000"/>
<text transform="translate(1284 879) scale(0.8409090909090909 0.8909)">27 Jul 05:00</text>
<polygon points="8,11 15,11 11.5,15" fill="#000" shape-rendering="auto"/>
<text transform="translate(20 16) scale(0.8363636363636363 0.8909)">HK50-,H4</text>
<text transform="translate(67 16) scale(0.8363636363636363 0.8909)" xml:space="preserve">19663.5 19704.5 19547.5 19668.5</text>
<text transform="translate(9 668) scale(0.859090909090909 0.8909)">MACD(12,26,9) 133.93 40.74</text>
</svg></body></html>
